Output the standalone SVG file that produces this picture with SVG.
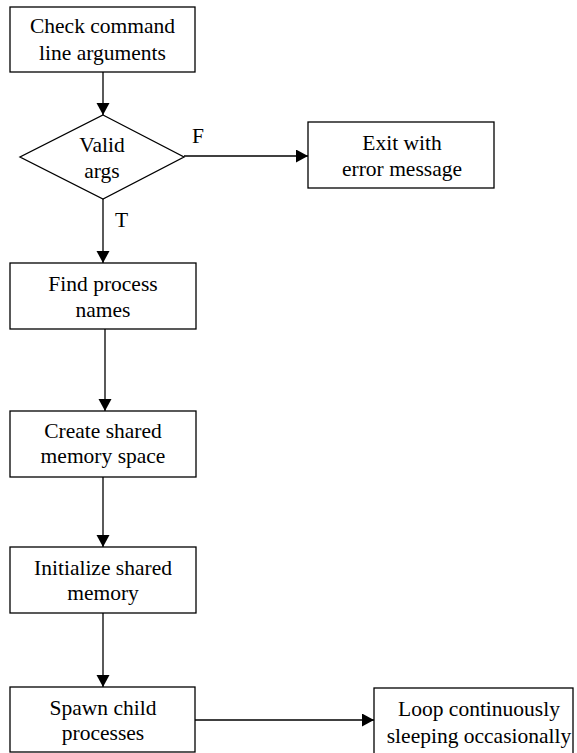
<svg xmlns="http://www.w3.org/2000/svg" width="577" height="753" viewBox="0 0 577 753">
  <style>
    .box { fill: #ffffff; stroke: #000000; stroke-width: 1.3; }
    .lbl { font-family: "Liberation Serif", "Times New Roman", serif; font-size: 21.5px; fill: #000000; text-anchor: middle; }
    .tag { font-family: "Liberation Serif", "Times New Roman", serif; font-size: 21.5px; fill: #000000; }
    .wire { fill: none; stroke: #000000; stroke-width: 1.3; }
  </style>
  <defs>
    <marker id="arrow" markerUnits="userSpaceOnUse" markerWidth="13" markerHeight="14" refX="12" refY="6.5" orient="auto">
      <path d="M0,0 L12,6.5 L0,13 Z" fill="#000000"/>
    </marker>
  </defs>
  <rect width="577" height="753" fill="#ffffff"/>

  <!-- connectors -->
  <g id="connectors">
    <line class="wire" x1="103" y1="72" x2="103" y2="115" marker-end="url(#arrow)"/>
    <line class="wire" x1="184" y1="156" x2="308" y2="156" marker-end="url(#arrow)"/>
    <line class="wire" x1="103" y1="199" x2="103" y2="263" marker-end="url(#arrow)"/>
    <line class="wire" x1="105" y1="329" x2="105" y2="411" marker-end="url(#arrow)"/>
    <line class="wire" x1="103" y1="477" x2="103" y2="547" marker-end="url(#arrow)"/>
    <line class="wire" x1="103" y1="613" x2="103" y2="687" marker-end="url(#arrow)"/>
    <line class="wire" x1="195" y1="720" x2="374" y2="720" marker-end="url(#arrow)"/>
    <text class="tag" x="192" y="143">F</text>
    <text class="tag" x="115" y="227">T</text>
  </g>

  <g id="check-args">
    <rect class="box" x="10" y="7" width="185" height="65"/>
    <text class="lbl" x="102.5" y="33">Check command</text>
    <text class="lbl" x="102.5" y="60">line arguments</text>
  </g>

  <g id="valid-args">
    <polygon class="box" points="103,115 184,157 103,199 20,157"/>
    <text class="lbl" x="102" y="152">Valid</text>
    <text class="lbl" x="102" y="178">args</text>
  </g>

  <g id="exit-error">
    <rect class="box" x="308" y="122" width="186" height="66"/>
    <text class="lbl" x="402" y="150">Exit with</text>
    <text class="lbl" x="402" y="176">error message</text>
  </g>

  <g id="find-names">
    <rect class="box" x="10" y="263" width="186" height="66"/>
    <text class="lbl" x="103" y="291">Find process</text>
    <text class="lbl" x="103" y="317">names</text>
  </g>

  <g id="create-shm">
    <rect class="box" x="10" y="411" width="186" height="66"/>
    <text class="lbl" x="103" y="438">Create shared</text>
    <text class="lbl" x="103" y="463">memory space</text>
  </g>

  <g id="init-shm">
    <rect class="box" x="10" y="547" width="186" height="66"/>
    <text class="lbl" x="103" y="575">Initialize shared</text>
    <text class="lbl" x="103" y="600">memory</text>
  </g>

  <g id="spawn-children">
    <rect class="box" x="10" y="687" width="185" height="65"/>
    <text class="lbl" x="103" y="715">Spawn child</text>
    <text class="lbl" x="103" y="740">processes</text>
  </g>

  <g id="loop-sleep">
    <rect class="box" x="374" y="688" width="199" height="66"/>
    <text class="lbl" x="479" y="716">Loop continuously</text>
    <text class="lbl" x="479" y="743">sleeping occasionally</text>
  </g>
</svg>
